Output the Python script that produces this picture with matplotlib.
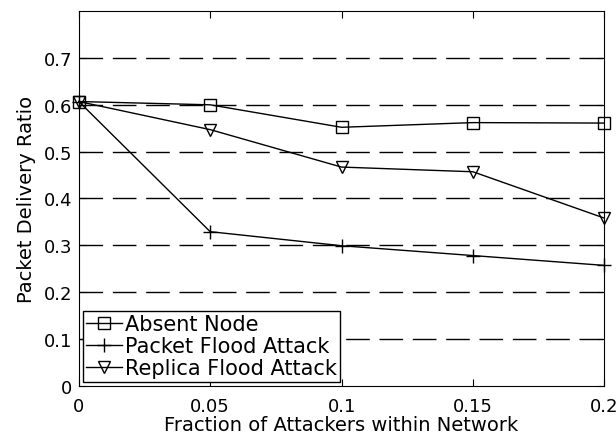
import matplotlib
matplotlib.use("Agg")
import matplotlib.pyplot as plt

# data
fractions = [0, 0.05, 0.1, 0.15, 0.2]
absent_node = [0.607, 0.600, 0.552, 0.562, 0.561]
packet_flood = [0.607, 0.329, 0.299, 0.278, 0.257]
replica_flood = [0.607, 0.547, 0.467, 0.457, 0.358]

xticks = [0, 0.05, 0.1, 0.15, 0.2]
xtick_labels = ["0", "0.05", "0.1", "0.15", "0.2"]
yticks = [0, 0.1, 0.2, 0.3, 0.4, 0.5, 0.6, 0.7]
ytick_labels = ["0", "0.1", "0.2", "0.3", "0.4", "0.5", "0.6", "0.7"]

plt.rcParams['font.family'] = ['DejaVu Sans']

fig = plt.figure(figsize=(6.16, 4.35), dpi=100)
ax = fig.add_axes([0.128, 0.111, 0.853, 0.861])

ax.plot(fractions, absent_node, color='black', lw=1, marker='s', ms=8.5,
        mfc='none', mec='black', clip_on=False, label='Absent Node')
ax.plot(fractions, packet_flood, color='black', lw=1, marker='+', ms=10,
        mew=1, clip_on=False, label='Packet Flood Attack')
ax.plot(fractions, replica_flood, color='black', lw=1, marker='v', ms=8.5,
        mfc='none', mec='black', clip_on=False, label='Replica Flood Attack')

# dashed horizontal grid only
for y in yticks[1:]:
    ax.axhline(y, color='black', lw=1, dashes=(17, 7), zorder=0)

ax.set_xlim(0, 0.2)
ax.set_ylim(0, 0.8)
ax.set_xticks(xticks)
ax.set_xticklabels(xtick_labels)
ax.set_yticks(yticks)
ax.set_yticklabels(ytick_labels)
ax.tick_params(direction='in', top=True, right=True, length=5, labelsize=13)
ax.tick_params(axis='x', pad=8)
ax.tick_params(axis='y', pad=5)

ax.set_xlabel('Fraction of Attackers within Network', fontsize=14, labelpad=0)
ax.set_ylabel('Packet Delivery Ratio', fontsize=14, labelpad=5)

leg = ax.legend(loc='lower left', fontsize=15, fancybox=False, framealpha=1,
                edgecolor='black', borderaxespad=0.2, handlelength=1.7,
                handletextpad=0.15, borderpad=0.15, labelspacing=0.1)
leg.get_frame().set_linewidth(1)

fig.savefig('out.png', dpi=100)
